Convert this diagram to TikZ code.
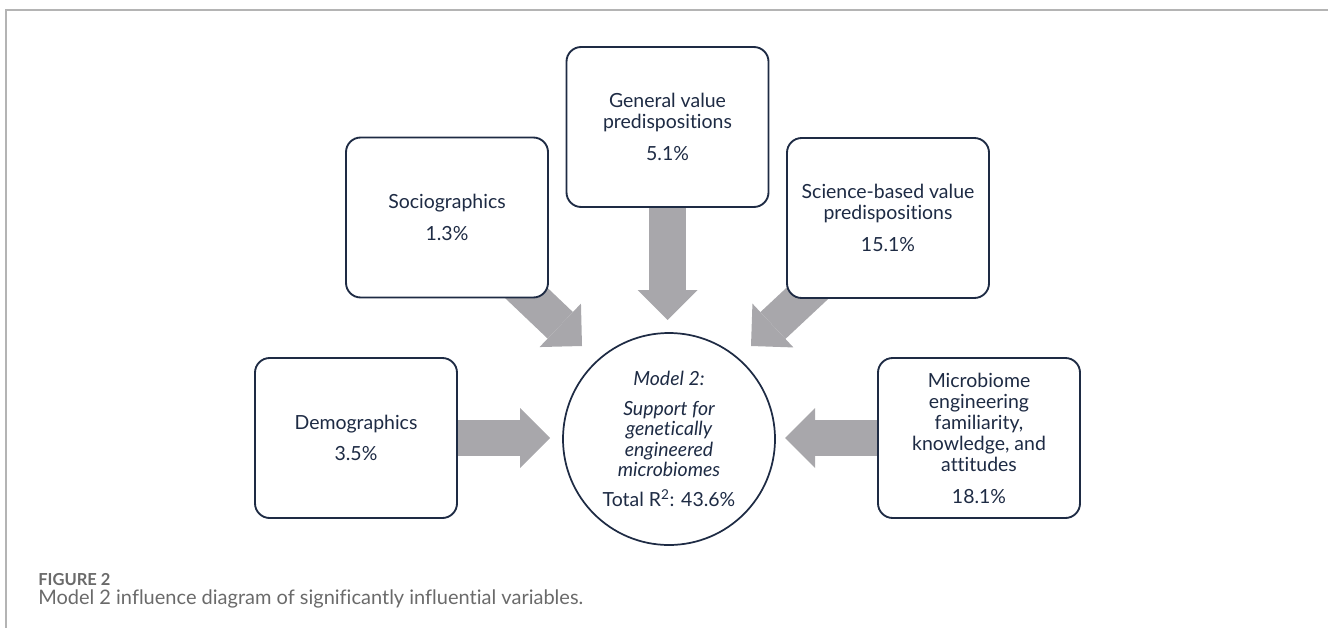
\documentclass[tikz,border=0pt]{standalone}
\usepackage{fontspec}
\setmainfont{Lato}[Ligatures=NoCommon]
\usetikzlibrary{arrows.meta, backgrounds, calc}
\definecolor{Navy}     {HTML}{1E2B44}
\definecolor{ArrGray}  {HTML}{A8A7AB}
\definecolor{FrameGray}{HTML}{B4B4B4}
\definecolor{CapGray}  {HTML}{6A6A6A}
\tikzset{
  fac/.style={
    rectangle, rounded corners=11pt,
    draw=Navy, fill=white, text=Navy,
    font=\fontsize{14.6}{15.8}\selectfont, align=center,
    inner sep=2pt, minimum width=151.5pt, minimum height=120pt,
    line width=1.4pt,
  },
  mdl/.style={
    circle, draw=Navy, fill=white, text=Navy,
    font=\fontsize{14.6}{15.3}\selectfont, align=center,
    inner sep=0pt, minimum size=159pt,
    line width=1.3pt,
  },
  bigarr/.style={
    -{Triangle[width=45pt,length=22.5pt,line width=0pt]},
    line width=27.5pt, color=ArrGray,
  },
  frm/.style={draw=FrameGray, line width=0.8pt},
  captxt/.style={anchor=base west, inner sep=0pt, text=CapGray},
}

\begin{document}
\begin{tikzpicture}[x=0.75pt,y=-0.75pt]
    \useasboundingbox (0,0) rectangle (1328,628);
    % factor boxes round the model circle
    \node[fac] (gen) at (667.5,127) {General value\\predispositions\\[8pt]5.1\%};
    \node[fac] (soc) at (447,217.5) {Sociographics\\[8pt]1.3\%};
    \node[fac] (sci) at (888,218)   {Science-based value\\predispositions\\[8pt]15.1\%};
    \node[fac] (dem) at (356,438)   {Demographics\\[8pt]3.5\%};
    \node[fac] (mic) at (979,438)   {Microbiome\\engineering\\familiarity,\\knowledge, and\\attitudes\\[8pt]18.1\%};
    \node[mdl] (mod) at (669,439)   {\itshape Model 2:\\[7pt]\itshape Support for\\\itshape genetically\\\itshape engineered\\\itshape microbiomes\\[7pt]Total R\textsuperscript{2}: 43.6\%};
    % arrow tips
    \coordinate (tipG) at (667.5,320);
    \coordinate (tipS) at (582,346);
    \coordinate (tipB) at (751,346);
    \coordinate (tipD) at (550,438);
    \coordinate (tipM) at (785,438);
    % caption
    \node[captxt, font=\fontsize{12.4}{14}\selectfont\bfseries] (fig) at (38,585) {FIGURE 2};
    \node[captxt, font=\fontsize{15}{17}\selectfont] (txt) at (38,604) {Model 2 influence diagram of significantly influential variables.};
    \begin{scope}[on background layer]
      \coordinate (fTL) at (6,10);
      \draw[frm] (1328,10) -- (fTL) -- (6,628);
      \draw[bigarr] (gen.center) -- (tipG);
      \draw[bigarr] (soc.center) -- (tipS);
      \draw[bigarr] (sci.center) -- (tipB);
      \draw[bigarr] (dem.center) -- (tipD);
      \draw[bigarr] (mic.center) -- (tipM);
    \end{scope}
\end{tikzpicture}
\end{document}
